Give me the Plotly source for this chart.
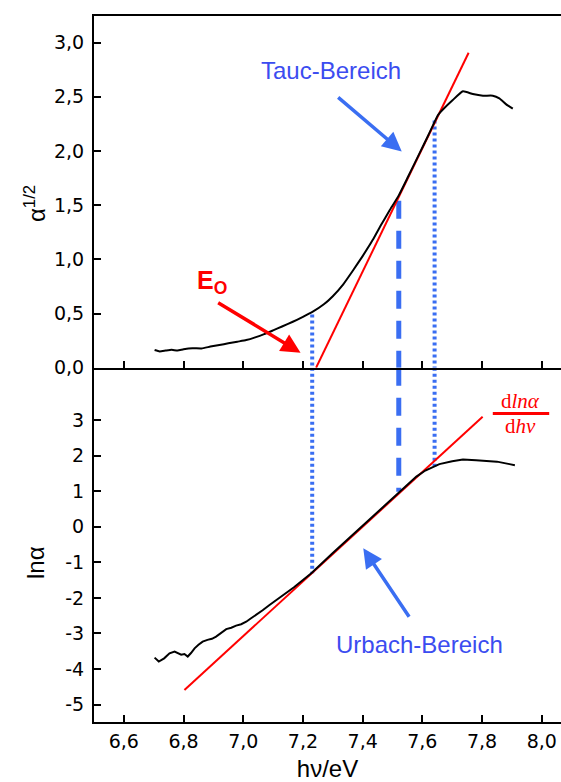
import plotly.graph_objects as go

# ---------------- data ----------------
# Tauc plot (top): alpha^(1/2) vs photon energy
tauc_x = [6.703, 6.72, 6.74, 6.76, 6.78, 6.80, 6.83, 6.86, 6.89, 6.92, 6.95, 6.98,
          7.01, 7.04, 7.07, 7.10, 7.13, 7.166, 7.20, 7.233, 7.27, 7.30, 7.335, 7.367,
          7.40, 7.434, 7.46, 7.49, 7.521, 7.55, 7.59, 7.62, 7.652, 7.668, 7.702, 7.736,
          7.769, 7.803, 7.836, 7.858, 7.881, 7.903]
tauc_y = [0.163, 0.150, 0.158, 0.165, 0.158, 0.170, 0.180, 0.178, 0.195, 0.210, 0.225, 0.240,
          0.255, 0.280, 0.310, 0.345, 0.380, 0.424, 0.470, 0.517, 0.585, 0.660, 0.770, 0.895,
          1.030, 1.180, 1.310, 1.450, 1.590, 1.750, 1.975, 2.145, 2.330, 2.380, 2.470, 2.550,
          2.525, 2.510, 2.510, 2.485, 2.430, 2.390]

# Urbach plot (bottom): ln(alpha) vs photon energy
urb_x = [6.703, 6.717, 6.735, 6.753, 6.77, 6.78, 6.792, 6.803, 6.814, 6.825, 6.837, 6.85,
         6.864, 6.88, 6.895, 6.909, 6.925, 6.943, 6.96, 6.976, 6.993, 7.01, 7.025, 7.043,
         7.065, 7.088, 7.115, 7.144, 7.17, 7.20, 7.228, 7.30, 7.40, 7.50, 7.521, 7.58,
         7.61, 7.641, 7.657, 7.70, 7.736, 7.78, 7.814, 7.85, 7.892, 7.91]
urb_y = [-3.68, -3.79, -3.70, -3.56, -3.51, -3.55, -3.60, -3.58, -3.65, -3.55, -3.42, -3.32,
         -3.23, -3.18, -3.15, -3.09, -2.98, -2.88, -2.84, -2.78, -2.74, -2.67, -2.58, -2.48,
         -2.35, -2.20, -2.04, -1.87, -1.70, -1.50, -1.31, -0.74, 0.02, 0.78, 0.95, 1.41,
         1.58, 1.69, 1.76, 1.84, 1.89, 1.87, 1.85, 1.83, 1.76, 1.73]

# fitted straight lines (end points)
tauc_fit_x = [7.244, 7.755]
tauc_fit_y = [0.0, 2.906]
urb_fit_x = [6.803, 7.802]
urb_fit_y = [-4.59, 3.09]

# vertical guide lines: energy, top-panel start, bottom-panel end
guide_x = [7.231, 7.521, 7.641]
guide_top = [0.49, 1.54, 2.28]
guide_bot = [-1.31, 0.98, 1.69]
guide_dash = ["3px,3px", "18px,12px", "3px,3px"]
guide_width = [4, 5, 4]

x_ticks = [6.6, 6.8, 7.0, 7.2, 7.4, 7.6, 7.8, 8.0]
x_ticktext = ["6,6", "6,8", "7,0", "7,2", "7,4", "7,6", "7,8", "8,0"]
top_ticks = [0.0, 0.5, 1.0, 1.5, 2.0, 2.5, 3.0]
top_ticktext = ["0,0", "0,5", "1,0", "1,5", "2,0", "2,5", "3,0"]
bot_ticks = [-5, -4, -3, -2, -1, 0, 1, 2, 3]
bot_ticktext = ["-5", "-4", "-3", "-2", "-1", "0", "1", "2", "3"]

X_RANGE = [6.5, 8.0645]
TOP_RANGE = [0.0, 3.245]
BOT_RANGE = [-5.49, 4.47]
SPLIT = 0.5018

W, H = 561, 782
ML, MR, MT, MB = 94, 0, 16, 60
PW, PH = W - ML - MR, H - MT - MB


def px_to_paper(px, py):
    return (px - ML) / PW, (H - MB - py) / PH


BLUE = "#3a6ef2"
BLUE_TXT = "#3b4cf0"
RED = "#ff0000"
FONT = "Liberation Sans, Arial, sans-serif"
TICKFONT = "DejaVu Sans, sans-serif"
SERIF = "Liberation Serif, Times New Roman, serif"

fig = go.Figure()

# guide lines
for gx, gt, gb, gd, gw in zip(guide_x, guide_top, guide_bot, guide_dash, guide_width):
    fig.add_trace(go.Scatter(x=[gx, gx], y=[gt, TOP_RANGE[0]], mode="lines",
                             line=dict(color=BLUE, width=gw, dash=gd),
                             xaxis="x2", yaxis="y2", showlegend=False, hoverinfo="skip"))
    fig.add_trace(go.Scatter(x=[gx, gx], y=[BOT_RANGE[1], gb], mode="lines",
                             line=dict(color=BLUE, width=gw, dash=gd),
                             xaxis="x", yaxis="y", showlegend=False, hoverinfo="skip"))

# fits
fig.add_trace(go.Scatter(x=tauc_fit_x, y=tauc_fit_y, mode="lines",
                         line=dict(color=RED, width=2), xaxis="x2", yaxis="y2",
                         showlegend=False))
fig.add_trace(go.Scatter(x=urb_fit_x, y=urb_fit_y, mode="lines",
                         line=dict(color=RED, width=2), xaxis="x", yaxis="y",
                         showlegend=False))

# data curves
fig.add_trace(go.Scatter(x=tauc_x, y=tauc_y, mode="lines",
                         line=dict(color="black", width=2, shape="spline", smoothing=0.4),
                         xaxis="x2", yaxis="y2", showlegend=False))
fig.add_trace(go.Scatter(x=urb_x, y=urb_y, mode="lines",
                         line=dict(color="black", width=2),
                         xaxis="x", yaxis="y", showlegend=False))

axis_common = dict(showline=True, linecolor="black", linewidth=2, ticks="inside",
                   ticklen=7, tickwidth=1.5, tickcolor="black", showgrid=False,
                   zeroline=False, tickfont=dict(family=TICKFONT, size=19, color="black"))

fig.update_layout(
    width=W, height=H,
    margin=dict(l=ML, r=MR, t=MT, b=MB),
    paper_bgcolor="white", plot_bgcolor="white",
    font=dict(family=FONT, color="black"),
    xaxis=dict(domain=[0, 1], anchor="y", range=X_RANGE, tickvals=x_ticks,
               ticktext=x_ticktext, ticklabelstandoff=1,
               title=dict(text="hν/eV", font=dict(family=FONT, size=24), standoff=11),
               **axis_common),
    yaxis=dict(domain=[0, SPLIT], anchor="x", range=BOT_RANGE, tickvals=bot_ticks,
               ticktext=bot_ticktext, ticklabelstandoff=4, **axis_common),
    xaxis2=dict(domain=[0, 1], anchor="y2", range=X_RANGE, matches="x", tickvals=x_ticks,
                showticklabels=False, mirror=True, **axis_common),
    yaxis2=dict(domain=[SPLIT, 1], anchor="x2", range=TOP_RANGE, tickvals=top_ticks,
                ticktext=top_ticktext, ticklabelstandoff=4, **axis_common),
)

# y axis titles (rotated text placed to match the reference position)
tx, ty = px_to_paper(35, 203)
fig.add_annotation(x=tx, y=ty, xref="paper", yref="paper", text="α<sup>1/2</sup>",
                   textangle=-90, showarrow=False, font=dict(family=FONT, size=24),
                   xanchor="center", yanchor="middle")
tx, ty = px_to_paper(35, 562)
fig.add_annotation(x=tx, y=ty, xref="paper", yref="paper", text="lnα",
                   textangle=-90, showarrow=False, font=dict(family=FONT, size=24),
                   xanchor="center", yanchor="middle")

# annotations
fig.add_annotation(x=7.294, y=2.74, xref="x2", yref="y2", text="Tauc-Bereich",
                   showarrow=False, font=dict(family=FONT, size=24, color=BLUE_TXT))
fig.add_annotation(x=7.531, y=1.995, ax=7.313, ay=2.506, xref="x2", yref="y2",
                   axref="x2", ayref="y2", text="", showarrow=True, arrowhead=2,
                   arrowsize=1.1, arrowwidth=3.5, arrowcolor=BLUE)

fig.add_annotation(x=6.895, y=0.79, xref="x2", yref="y2", text="<b>E<sub>O</sub></b>",
                   showarrow=False, font=dict(family=FONT, size=25, color=RED))
fig.add_annotation(x=7.192, y=0.138, ax=6.911, ay=0.609, xref="x2", yref="y2",
                   axref="x2", ayref="y2", text="", showarrow=True, arrowhead=2,
                   arrowsize=1.1, arrowwidth=3.5, arrowcolor=RED)

fig.add_annotation(x=7.592, y=-3.32, xref="x", yref="y", text="Urbach-Bereich",
                   showarrow=False, font=dict(family=FONT, size=24, color=BLUE_TXT))
fig.add_annotation(x=7.402, y=-0.607, ax=7.559, ay=-2.573, xref="x", yref="y",
                   axref="x", ayref="y", text="", showarrow=True, arrowhead=2,
                   arrowsize=1.1, arrowwidth=3.5, arrowcolor=BLUE)

fig.add_annotation(x=7.930, y=3.53, xref="x", yref="y", text="d<i>ln</i><i>α</i>",
                   showarrow=False, font=dict(family=SERIF, size=21, color=RED))
fig.add_annotation(x=7.929, y=2.83, xref="x", yref="y", text="d<i>h</i><i>ν</i>",
                   showarrow=False, font=dict(family=SERIF, size=21, color=RED))
fig.add_shape(type="line", xref="x", yref="y", x0=7.836, x1=8.025, y0=3.185, y1=3.185,
              line=dict(color=RED, width=3))

fig.write_html("out.html")
